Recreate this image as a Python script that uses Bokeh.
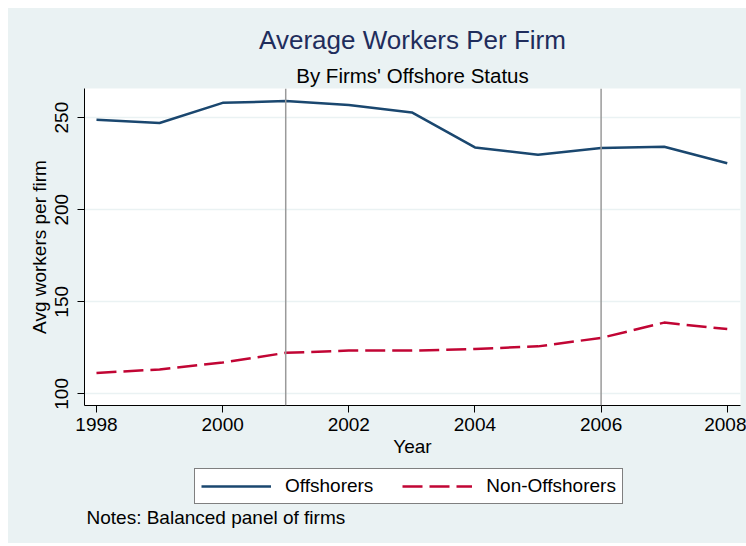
from bokeh.plotting import figure
from bokeh.layouts import column
from bokeh.models import Range1d, FixedTicker, Span, Legend, LegendItem, Title, Label
from bokeh.embed import file_html
from bokeh.resources import INLINE

years = [1998, 1999, 2000, 2001, 2002, 2003, 2004, 2005, 2006, 2007, 2008]
offshorers = [248.8, 247.1, 258.0, 259.0, 256.9, 252.8, 233.8, 229.8, 233.5, 234.2, 225.2]
non_offshorers = [111.4, 113.3, 117.0, 122.3, 123.5, 123.5, 124.4, 125.8, 130.4, 138.7, 135.2]
x_ticks = [1998, 2000, 2002, 2004, 2006, 2008]
y_ticks = [100, 150, 200, 250]
vlines = [2001, 2006]
series_names = ["Offshorers", "Non-Offshorers"]

BG = "#EAF2F3"
FONT = "Liberation Sans"
NAVY = "#1A476F"
RED = "#C10534"
DASH = "20 7"

# ---- main chart ----
p = figure(width=738, height=454, output_backend="svg", toolbar_location=None,
           x_range=Range1d(1997.81, 2008.21), y_range=Range1d(93.7, 265.8),
           min_border_left=76, min_border_right=6, min_border_top=80, min_border_bottom=57)
p.background_fill_color = "white"
p.border_fill_color = BG
p.outline_line_color = None

p.xgrid.visible = False
p.ygrid.grid_line_color = BG
p.ygrid.grid_line_width = 1.5
p.ygrid.ticker = FixedTicker(ticks=y_ticks)

p.xaxis.ticker = FixedTicker(ticks=x_ticks)
p.yaxis.ticker = FixedTicker(ticks=y_ticks)
for ax in (p.xaxis[0], p.yaxis[0]):
    ax.axis_line_color = "black"
    ax.axis_line_width = 1
    ax.major_tick_line_color = "black"
    ax.major_tick_out = 7
    ax.major_tick_in = 0
    ax.minor_tick_line_color = None
    ax.major_label_text_font = FONT
    ax.major_label_text_font_size = "19px"
    ax.major_label_text_color = "black"
    ax.axis_label_text_font = FONT
    ax.axis_label_text_font_size = "19px"
    ax.axis_label_text_font_style = "normal"
    ax.axis_label_text_color = "black"
p.xaxis.axis_label = "Year"
p.yaxis.axis_label = "Avg workers per firm"
p.yaxis.major_label_orientation = "vertical"
p.xaxis.major_label_standoff = 5
p.xaxis.axis_label_standoff = 2
p.yaxis.major_label_standoff = 9
p.yaxis.axis_label_standoff = 3

for v in vlines:
    p.add_layout(Span(location=v, dimension="height", line_color="#9A9A9A", line_width=1.5))

p.line(years, offshorers, line_color=NAVY, line_width=2.5)
p.line(years, non_offshorers, line_color=RED, line_width=2.5, line_dash=DASH)

sub = Title(text="By Firms' Offshore Status", align="center", standoff=4,
            text_font=FONT, text_font_size="20.5px", text_font_style="normal",
            text_color="black")
p.add_layout(sub, "above")
main = Title(text="Average Workers Per Firm", align="center",
             text_font=FONT, text_font_size="26px", text_font_style="normal",
             text_color="#1F2D5C")
p.add_layout(main, "above")

# ---- legend and notes strip ----
q = figure(width=738, height=81, output_backend="svg", toolbar_location=None,
           x_range=Range1d(0, 1), y_range=Range1d(0, 1),
           x_axis_type=None, y_axis_type=None, min_border=0)
q.background_fill_color = None
q.border_fill_color = BG
q.outline_line_color = None
q.grid.visible = False
# same series (outside this strip's view) so that the legend shows their styles
l1 = q.line(years, offshorers, line_color=NAVY, line_width=2.5)
l2 = q.line(years, non_offshorers, line_color=RED, line_width=2.5, line_dash=DASH)

legend = Legend(items=[LegendItem(label=series_names[0], renderers=[l1]),
                       LegendItem(label=series_names[1], renderers=[l2])],
                orientation="horizontal", location=(110, 39),
                label_text_font=FONT, label_text_font_size="19px", label_text_color="black",
                glyph_width=70, glyph_height=20, label_standoff=14, spacing=29,
                padding=6, margin=0,
                border_line_color="black", border_line_width=1,
                background_fill_color="white", background_fill_alpha=1.0)
q.add_layout(legend, "center")

notes = Label(x=2, y=26, x_units="screen", y_units="screen",
              text="Notes: Balanced panel of firms", text_baseline="alphabetic",
              text_font=FONT, text_font_size="19px", text_color="black")
q.add_layout(notes)

page = column(p, q, spacing=0, margin=(8, 0, 0, 8), styles={"background-color": BG})

open("out.html", "w").write(file_html(page, INLINE))
